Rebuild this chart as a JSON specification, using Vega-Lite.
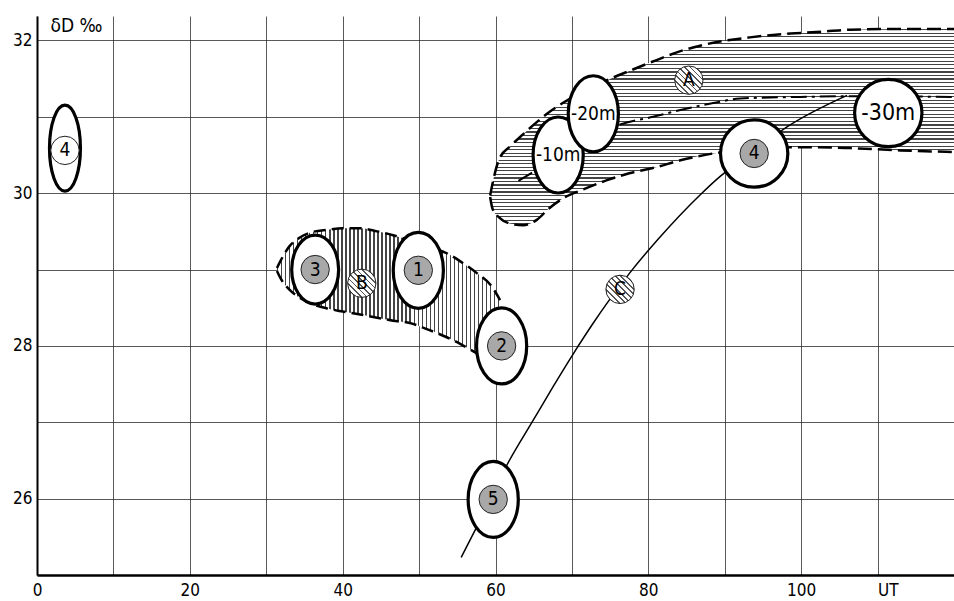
{
  "$schema": "https://vega.github.io/schema/vega-lite/v6.json",
  "width": 917,
  "height": 559,
  "autosize": {"type": "none"},
  "padding": {"left": 37, "top": 16, "right": 0, "bottom": 26},
  "background": "white",
  "config": {"view": {"stroke": null}, "font": "DejaVu Sans Condensed, Liberation Sans, sans-serif"},
  "datasets": {
    "regionA": [
      {"x": 59.3, "y": 29.97, "y2": 29.95},
      {"x": 59.6, "y": 30.12, "y2": 29.8},
      {"x": 60.5, "y": 30.45, "y2": 29.68},
      {"x": 62.0, "y": 30.62, "y2": 29.6},
      {"x": 63.6, "y": 30.77, "y2": 29.58},
      {"x": 65.4, "y": 30.93, "y2": 29.65},
      {"x": 67.0, "y": 31.06, "y2": 29.8},
      {"x": 68.8, "y": 31.18, "y2": 29.93},
      {"x": 71.5, "y": 31.33, "y2": 30.05},
      {"x": 74.6, "y": 31.48, "y2": 30.17},
      {"x": 77.5, "y": 31.6, "y2": 30.26},
      {"x": 81.0, "y": 31.74, "y2": 30.34},
      {"x": 84.2, "y": 31.86, "y2": 30.43},
      {"x": 88.5, "y": 31.97, "y2": 30.52},
      {"x": 93.3, "y": 32.04, "y2": 30.57},
      {"x": 98.6, "y": 32.09, "y2": 30.6},
      {"x": 102.0, "y": 32.11, "y2": 30.6},
      {"x": 106.4, "y": 32.14, "y2": 30.59},
      {"x": 113.0, "y": 32.15, "y2": 30.56},
      {"x": 120.0, "y": 32.15, "y2": 30.54}
    ],
    "regionB": [
      {"x": 31.4, "y": 29.02, "y2": 28.98},
      {"x": 31.9, "y": 29.12, "y2": 28.88},
      {"x": 33.0, "y": 29.3, "y2": 28.74},
      {"x": 34.4, "y": 29.42, "y2": 28.63},
      {"x": 36.0, "y": 29.49, "y2": 28.55},
      {"x": 38.0, "y": 29.52, "y2": 28.49},
      {"x": 40.0, "y": 29.54, "y2": 28.45},
      {"x": 42.3, "y": 29.54, "y2": 28.41},
      {"x": 44.5, "y": 29.5, "y2": 28.37},
      {"x": 46.6, "y": 29.45, "y2": 28.33},
      {"x": 48.8, "y": 29.38, "y2": 28.3},
      {"x": 51.0, "y": 29.3, "y2": 28.22},
      {"x": 53.7, "y": 29.21, "y2": 28.11},
      {"x": 55.5, "y": 29.1, "y2": 28.02},
      {"x": 57.6, "y": 28.95, "y2": 27.9},
      {"x": 59.5, "y": 28.78, "y2": 27.8},
      {"x": 60.6, "y": 28.6, "y2": 27.75}
    ],
    "lineA": [
      {"x": 63.0, "y": 30.16},
      {"x": 69.8, "y": 30.56},
      {"x": 76.3, "y": 30.9},
      {"x": 80.6, "y": 31.0},
      {"x": 84.2, "y": 31.09},
      {"x": 88.5, "y": 31.18},
      {"x": 92.0, "y": 31.24},
      {"x": 99.9, "y": 31.26},
      {"x": 106.4, "y": 31.27},
      {"x": 120.0, "y": 31.26}
    ],
    "trendC": [
      {"x": 55.5, "y": 25.23},
      {"x": 57.3, "y": 25.58},
      {"x": 61.6, "y": 26.46},
      {"x": 64.9, "y": 27.02},
      {"x": 67.5, "y": 27.46},
      {"x": 70.2, "y": 27.9},
      {"x": 72.8, "y": 28.3},
      {"x": 74.6, "y": 28.56},
      {"x": 77.6, "y": 28.96},
      {"x": 81.3, "y": 29.4},
      {"x": 86.8, "y": 29.98},
      {"x": 89.4, "y": 30.22},
      {"x": 93.85, "y": 30.55},
      {"x": 98.2, "y": 30.87},
      {"x": 106.0, "y": 31.28}
    ],
    "ellTall": [
      {"label": "1", "x": 49.9, "y": 28.99},
      {"label": "2", "x": 60.8, "y": 28.0},
      {"label": "5", "x": 59.7, "y": 25.99},
      {"label": "-10m", "x": 68.2, "y": 30.5},
      {"label": "-20m", "x": 72.8, "y": 31.04}
    ],
    "ellShort": [{"label": "3", "x": 36.4, "y": 29.0}],
    "ellNarrow": [{"label": "4", "x": 3.66, "y": 30.59}],
    "ellRound": [
      {"label": "4", "x": 93.85, "y": 30.52},
      {"label": "-30m", "x": 111.4, "y": 31.05}
    ],
    "samples": [
      {"label": "1", "x": 49.9, "y": 28.99, "kind": "stippled"},
      {"label": "2", "x": 60.8, "y": 28.0, "kind": "stippled"},
      {"label": "3", "x": 36.4, "y": 29.0, "kind": "stippled"},
      {"label": "5", "x": 59.7, "y": 25.99, "kind": "stippled"},
      {"label": "4", "x": 93.85, "y": 30.52, "kind": "stippled"},
      {"label": "4", "x": 3.66, "y": 30.56, "kind": "open"},
      {"label": "A", "x": 85.3, "y": 31.48, "kind": "hatched"},
      {"label": "B", "x": 42.5, "y": 28.82, "kind": "hatched"},
      {"label": "C", "x": 76.3, "y": 28.74, "kind": "hatched"}
    ],
    "depths": [
      {"label": "-10m", "x": 68.2, "y": 30.5},
      {"label": "-20m", "x": 72.8, "y": 31.04},
      {"label": "-30m", "x": 111.4, "y": 31.05}
    ]
  },
  "encoding": {
    "x": {
      "field": "x",
      "type": "quantitative",
      "scale": {"domain": [0, 120], "nice": false, "zero": false},
      "axis": {
        "values": [0, 10, 20, 30, 40, 50, 60, 70, 80, 90, 100, 110],
        "labelExpr": "datum.value == 110 ? 'UT' : ((datum.value % 20 == 0 && datum.value <= 100) ? datum.label : '')",
        "title": null,
        "grid": true,
        "gridColor": "#222",
        "gridWidth": 1,
        "gridOpacity": 0.75,
        "ticks": false,
        "domainColor": "black",
        "domainWidth": 2.5,
        "labelFont": "DejaVu Sans Condensed, Liberation Sans, sans-serif",
        "labelFontSize": 17,
        "labelColor": "black",
        "labelPadding": 7,
        "labelFlush": false,
        "labelOverlap": false,
        "labelAlign": {"condition": {"test": "datum.value == 110", "value": "left"}, "value": "center"}
      }
    },
    "y": {
      "field": "y",
      "type": "quantitative",
      "scale": {"domain": [25, 32.32], "nice": false, "zero": false},
      "axis": {
        "values": [25, 26, 27, 28, 29, 30, 31, 32],
        "labelExpr": "(datum.value % 2 == 0 && datum.value > 25) ? datum.label : ''",
        "grid": true,
        "gridColor": "#222",
        "gridWidth": 1,
        "gridOpacity": 0.75,
        "ticks": false,
        "domainColor": "black",
        "domainWidth": 2,
        "labelFont": "DejaVu Sans Condensed, Liberation Sans, sans-serif",
        "labelFontSize": 17,
        "labelColor": "black",
        "labelPadding": 5,
        "labelFlush": false,
        "labelOverlap": false,
        "title": "δD ‰",
        "titleAngle": 0,
        "titleX": 13,
        "titleY": 9,
        "titleAlign": "left",
        "titleBaseline": "middle",
        "titleFont": "DejaVu Sans Condensed, Liberation Sans, sans-serif",
        "titleFontSize": 19,
        "titleFontWeight": "normal",
        "titleColor": "black"
      }
    }
  },
  "layer": [
    {
      "data": {"name": "regionA"},
      "mark": {"type": "area", "interpolate": "monotone", "opacity": 1,
        "fill": {"gradient": "linear", "x1": 0, "y1": 0, "x2": 0, "y2": 1, "stops": [
{"offset":0,"color":"#444"},{"offset":0.006,"color":"#444"},{"offset":0.006,"color":"#fff"},{"offset":0.018,"color":"#fff"},
{"offset":0.018,"color":"#444"},{"offset":0.024,"color":"#444"},{"offset":0.024,"color":"#fff"},{"offset":0.036,"color":"#fff"},
{"offset":0.036,"color":"#444"},{"offset":0.042,"color":"#444"},{"offset":0.042,"color":"#fff"},{"offset":0.054,"color":"#fff"},
{"offset":0.054,"color":"#444"},{"offset":0.06,"color":"#444"},{"offset":0.06,"color":"#fff"},{"offset":0.072,"color":"#fff"},
{"offset":0.072,"color":"#444"},{"offset":0.078,"color":"#444"},{"offset":0.078,"color":"#fff"},{"offset":0.09,"color":"#fff"},
{"offset":0.09,"color":"#444"},{"offset":0.096,"color":"#444"},{"offset":0.096,"color":"#fff"},{"offset":0.108,"color":"#fff"},
{"offset":0.108,"color":"#444"},{"offset":0.114,"color":"#444"},{"offset":0.114,"color":"#fff"},{"offset":0.126,"color":"#fff"},
{"offset":0.126,"color":"#444"},{"offset":0.132,"color":"#444"},{"offset":0.132,"color":"#fff"},{"offset":0.144,"color":"#fff"},
{"offset":0.144,"color":"#444"},{"offset":0.15,"color":"#444"},{"offset":0.15,"color":"#fff"},{"offset":0.162,"color":"#fff"},
{"offset":0.162,"color":"#444"},{"offset":0.168,"color":"#444"},{"offset":0.168,"color":"#fff"},{"offset":0.18,"color":"#fff"},
{"offset":0.18,"color":"#444"},{"offset":0.186,"color":"#444"},{"offset":0.186,"color":"#fff"},{"offset":0.198,"color":"#fff"},
{"offset":0.198,"color":"#444"},{"offset":0.204,"color":"#444"},{"offset":0.204,"color":"#fff"},{"offset":0.216,"color":"#fff"},
{"offset":0.216,"color":"#444"},{"offset":0.222,"color":"#444"},{"offset":0.222,"color":"#fff"},{"offset":0.234,"color":"#fff"},
{"offset":0.234,"color":"#444"},{"offset":0.24,"color":"#444"},{"offset":0.24,"color":"#fff"},{"offset":0.252,"color":"#fff"},
{"offset":0.252,"color":"#444"},{"offset":0.258,"color":"#444"},{"offset":0.258,"color":"#fff"},{"offset":0.27,"color":"#fff"},
{"offset":0.27,"color":"#444"},{"offset":0.276,"color":"#444"},{"offset":0.276,"color":"#fff"},{"offset":0.288,"color":"#fff"},
{"offset":0.288,"color":"#444"},{"offset":0.294,"color":"#444"},{"offset":0.294,"color":"#fff"},{"offset":0.306,"color":"#fff"},
{"offset":0.306,"color":"#444"},{"offset":0.312,"color":"#444"},{"offset":0.312,"color":"#fff"},{"offset":0.324,"color":"#fff"},
{"offset":0.324,"color":"#444"},{"offset":0.33,"color":"#444"},{"offset":0.33,"color":"#fff"},{"offset":0.342,"color":"#fff"},
{"offset":0.342,"color":"#444"},{"offset":0.348,"color":"#444"},{"offset":0.348,"color":"#fff"},{"offset":0.36,"color":"#fff"},
{"offset":0.36,"color":"#444"},{"offset":0.366,"color":"#444"},{"offset":0.366,"color":"#fff"},{"offset":0.378,"color":"#fff"},
{"offset":0.378,"color":"#444"},{"offset":0.384,"color":"#444"},{"offset":0.384,"color":"#fff"},{"offset":0.396,"color":"#fff"},
{"offset":0.396,"color":"#444"},{"offset":0.402,"color":"#444"},{"offset":0.402,"color":"#fff"},{"offset":0.414,"color":"#fff"},
{"offset":0.414,"color":"#444"},{"offset":0.42,"color":"#444"},{"offset":0.42,"color":"#fff"},{"offset":0.432,"color":"#fff"},
{"offset":0.432,"color":"#444"},{"offset":0.438,"color":"#444"},{"offset":0.438,"color":"#fff"},{"offset":0.45,"color":"#fff"},
{"offset":0.45,"color":"#444"},{"offset":0.456,"color":"#444"},{"offset":0.456,"color":"#fff"},{"offset":0.468,"color":"#fff"},
{"offset":0.468,"color":"#444"},{"offset":0.474,"color":"#444"},{"offset":0.474,"color":"#fff"},{"offset":0.486,"color":"#fff"},
{"offset":0.486,"color":"#444"},{"offset":0.492,"color":"#444"},{"offset":0.492,"color":"#fff"},{"offset":0.504,"color":"#fff"},
{"offset":0.504,"color":"#444"},{"offset":0.51,"color":"#444"},{"offset":0.51,"color":"#fff"},{"offset":0.522,"color":"#fff"},
{"offset":0.522,"color":"#444"},{"offset":0.528,"color":"#444"},{"offset":0.528,"color":"#fff"},{"offset":0.54,"color":"#fff"},
{"offset":0.54,"color":"#444"},{"offset":0.546,"color":"#444"},{"offset":0.546,"color":"#fff"},{"offset":0.558,"color":"#fff"},
{"offset":0.558,"color":"#444"},{"offset":0.564,"color":"#444"},{"offset":0.564,"color":"#fff"},{"offset":0.576,"color":"#fff"},
{"offset":0.576,"color":"#444"},{"offset":0.582,"color":"#444"},{"offset":0.582,"color":"#fff"},{"offset":0.594,"color":"#fff"},
{"offset":0.594,"color":"#444"},{"offset":0.6,"color":"#444"},{"offset":0.6,"color":"#fff"},{"offset":0.612,"color":"#fff"},
{"offset":0.612,"color":"#444"},{"offset":0.618,"color":"#444"},{"offset":0.618,"color":"#fff"},{"offset":0.63,"color":"#fff"},
{"offset":0.63,"color":"#444"},{"offset":0.636,"color":"#444"},{"offset":0.636,"color":"#fff"},{"offset":0.648,"color":"#fff"},
{"offset":0.648,"color":"#444"},{"offset":0.654,"color":"#444"},{"offset":0.654,"color":"#fff"},{"offset":0.666,"color":"#fff"},
{"offset":0.666,"color":"#444"},{"offset":0.672,"color":"#444"},{"offset":0.672,"color":"#fff"},{"offset":0.684,"color":"#fff"},
{"offset":0.684,"color":"#444"},{"offset":0.69,"color":"#444"},{"offset":0.69,"color":"#fff"},{"offset":0.702,"color":"#fff"},
{"offset":0.702,"color":"#444"},{"offset":0.708,"color":"#444"},{"offset":0.708,"color":"#fff"},{"offset":0.72,"color":"#fff"},
{"offset":0.72,"color":"#444"},{"offset":0.726,"color":"#444"},{"offset":0.726,"color":"#fff"},{"offset":0.738,"color":"#fff"},
{"offset":0.738,"color":"#444"},{"offset":0.744,"color":"#444"},{"offset":0.744,"color":"#fff"},{"offset":0.756,"color":"#fff"},
{"offset":0.756,"color":"#444"},{"offset":0.762,"color":"#444"},{"offset":0.762,"color":"#fff"},{"offset":0.774,"color":"#fff"},
{"offset":0.774,"color":"#444"},{"offset":0.78,"color":"#444"},{"offset":0.78,"color":"#fff"},{"offset":0.792,"color":"#fff"},
{"offset":0.792,"color":"#444"},{"offset":0.798,"color":"#444"},{"offset":0.798,"color":"#fff"},{"offset":0.81,"color":"#fff"},
{"offset":0.81,"color":"#444"},{"offset":0.816,"color":"#444"},{"offset":0.816,"color":"#fff"},{"offset":0.828,"color":"#fff"},
{"offset":0.828,"color":"#444"},{"offset":0.834,"color":"#444"},{"offset":0.834,"color":"#fff"},{"offset":0.846,"color":"#fff"},
{"offset":0.846,"color":"#444"},{"offset":0.852,"color":"#444"},{"offset":0.852,"color":"#fff"},{"offset":0.864,"color":"#fff"},
{"offset":0.864,"color":"#444"},{"offset":0.87,"color":"#444"},{"offset":0.87,"color":"#fff"},{"offset":0.882,"color":"#fff"},
{"offset":0.882,"color":"#444"},{"offset":0.888,"color":"#444"},{"offset":0.888,"color":"#fff"},{"offset":0.9,"color":"#fff"},
{"offset":0.9,"color":"#444"},{"offset":0.906,"color":"#444"},{"offset":0.906,"color":"#fff"},{"offset":0.918,"color":"#fff"},
{"offset":0.918,"color":"#444"},{"offset":0.924,"color":"#444"},{"offset":0.924,"color":"#fff"},{"offset":0.936,"color":"#fff"},
{"offset":0.936,"color":"#444"},{"offset":0.942,"color":"#444"},{"offset":0.942,"color":"#fff"},{"offset":0.954,"color":"#fff"},
{"offset":0.954,"color":"#444"},{"offset":0.96,"color":"#444"},{"offset":0.96,"color":"#fff"},{"offset":0.972,"color":"#fff"},
{"offset":0.972,"color":"#444"},{"offset":0.978,"color":"#444"},{"offset":0.978,"color":"#fff"},{"offset":0.99,"color":"#fff"},
{"offset":0.99,"color":"#444"},{"offset":0.996,"color":"#444"},{"offset":0.996,"color":"#fff"},{"offset":1,"color":"#fff"}
        ]}},
      "encoding": {"y2": {"field": "y2"}}
    },
    {
      "data": {"name": "regionB"},
      "mark": {"type": "area", "interpolate": "monotone", "opacity": 1,
        "fill": {"gradient": "linear", "x1": 0, "y1": 0, "x2": 1, "y2": 0, "stops": [
{"offset":0,"color":"#444"},{"offset":0.006,"color":"#444"},{"offset":0.006,"color":"#fff"},{"offset":0.018,"color":"#fff"},
{"offset":0.018,"color":"#444"},{"offset":0.024,"color":"#444"},{"offset":0.024,"color":"#fff"},{"offset":0.036,"color":"#fff"},
{"offset":0.036,"color":"#444"},{"offset":0.042,"color":"#444"},{"offset":0.042,"color":"#fff"},{"offset":0.054,"color":"#fff"},
{"offset":0.054,"color":"#444"},{"offset":0.06,"color":"#444"},{"offset":0.06,"color":"#fff"},{"offset":0.072,"color":"#fff"},
{"offset":0.072,"color":"#444"},{"offset":0.078,"color":"#444"},{"offset":0.078,"color":"#fff"},{"offset":0.09,"color":"#fff"},
{"offset":0.09,"color":"#444"},{"offset":0.096,"color":"#444"},{"offset":0.096,"color":"#fff"},{"offset":0.108,"color":"#fff"},
{"offset":0.108,"color":"#444"},{"offset":0.114,"color":"#444"},{"offset":0.114,"color":"#fff"},{"offset":0.126,"color":"#fff"},
{"offset":0.126,"color":"#444"},{"offset":0.132,"color":"#444"},{"offset":0.132,"color":"#fff"},{"offset":0.144,"color":"#fff"},
{"offset":0.144,"color":"#444"},{"offset":0.15,"color":"#444"},{"offset":0.15,"color":"#fff"},{"offset":0.162,"color":"#fff"},
{"offset":0.162,"color":"#444"},{"offset":0.168,"color":"#444"},{"offset":0.168,"color":"#fff"},{"offset":0.18,"color":"#fff"},
{"offset":0.18,"color":"#444"},{"offset":0.186,"color":"#444"},{"offset":0.186,"color":"#fff"},{"offset":0.198,"color":"#fff"},
{"offset":0.198,"color":"#444"},{"offset":0.204,"color":"#444"},{"offset":0.204,"color":"#fff"},{"offset":0.216,"color":"#fff"},
{"offset":0.216,"color":"#444"},{"offset":0.222,"color":"#444"},{"offset":0.222,"color":"#fff"},{"offset":0.234,"color":"#fff"},
{"offset":0.234,"color":"#444"},{"offset":0.24,"color":"#444"},{"offset":0.24,"color":"#fff"},{"offset":0.252,"color":"#fff"},
{"offset":0.252,"color":"#444"},{"offset":0.258,"color":"#444"},{"offset":0.258,"color":"#fff"},{"offset":0.27,"color":"#fff"},
{"offset":0.27,"color":"#444"},{"offset":0.276,"color":"#444"},{"offset":0.276,"color":"#fff"},{"offset":0.288,"color":"#fff"},
{"offset":0.288,"color":"#444"},{"offset":0.294,"color":"#444"},{"offset":0.294,"color":"#fff"},{"offset":0.306,"color":"#fff"},
{"offset":0.306,"color":"#444"},{"offset":0.312,"color":"#444"},{"offset":0.312,"color":"#fff"},{"offset":0.324,"color":"#fff"},
{"offset":0.324,"color":"#444"},{"offset":0.33,"color":"#444"},{"offset":0.33,"color":"#fff"},{"offset":0.342,"color":"#fff"},
{"offset":0.342,"color":"#444"},{"offset":0.348,"color":"#444"},{"offset":0.348,"color":"#fff"},{"offset":0.36,"color":"#fff"},
{"offset":0.36,"color":"#444"},{"offset":0.366,"color":"#444"},{"offset":0.366,"color":"#fff"},{"offset":0.378,"color":"#fff"},
{"offset":0.378,"color":"#444"},{"offset":0.384,"color":"#444"},{"offset":0.384,"color":"#fff"},{"offset":0.396,"color":"#fff"},
{"offset":0.396,"color":"#444"},{"offset":0.402,"color":"#444"},{"offset":0.402,"color":"#fff"},{"offset":0.414,"color":"#fff"},
{"offset":0.414,"color":"#444"},{"offset":0.42,"color":"#444"},{"offset":0.42,"color":"#fff"},{"offset":0.432,"color":"#fff"},
{"offset":0.432,"color":"#444"},{"offset":0.438,"color":"#444"},{"offset":0.438,"color":"#fff"},{"offset":0.45,"color":"#fff"},
{"offset":0.45,"color":"#444"},{"offset":0.456,"color":"#444"},{"offset":0.456,"color":"#fff"},{"offset":0.468,"color":"#fff"},
{"offset":0.468,"color":"#444"},{"offset":0.474,"color":"#444"},{"offset":0.474,"color":"#fff"},{"offset":0.486,"color":"#fff"},
{"offset":0.486,"color":"#444"},{"offset":0.492,"color":"#444"},{"offset":0.492,"color":"#fff"},{"offset":0.504,"color":"#fff"},
{"offset":0.504,"color":"#444"},{"offset":0.51,"color":"#444"},{"offset":0.51,"color":"#fff"},{"offset":0.522,"color":"#fff"},
{"offset":0.522,"color":"#444"},{"offset":0.528,"color":"#444"},{"offset":0.528,"color":"#fff"},{"offset":0.54,"color":"#fff"},
{"offset":0.54,"color":"#444"},{"offset":0.546,"color":"#444"},{"offset":0.546,"color":"#fff"},{"offset":0.558,"color":"#fff"},
{"offset":0.558,"color":"#444"},{"offset":0.564,"color":"#444"},{"offset":0.564,"color":"#fff"},{"offset":0.576,"color":"#fff"},
{"offset":0.576,"color":"#444"},{"offset":0.582,"color":"#444"},{"offset":0.582,"color":"#fff"},{"offset":0.594,"color":"#fff"},
{"offset":0.594,"color":"#444"},{"offset":0.6,"color":"#444"},{"offset":0.6,"color":"#fff"},{"offset":0.612,"color":"#fff"},
{"offset":0.612,"color":"#444"},{"offset":0.618,"color":"#444"},{"offset":0.618,"color":"#fff"},{"offset":0.63,"color":"#fff"},
{"offset":0.63,"color":"#444"},{"offset":0.636,"color":"#444"},{"offset":0.636,"color":"#fff"},{"offset":0.648,"color":"#fff"},
{"offset":0.648,"color":"#444"},{"offset":0.654,"color":"#444"},{"offset":0.654,"color":"#fff"},{"offset":0.666,"color":"#fff"},
{"offset":0.666,"color":"#444"},{"offset":0.672,"color":"#444"},{"offset":0.672,"color":"#fff"},{"offset":0.684,"color":"#fff"},
{"offset":0.684,"color":"#444"},{"offset":0.69,"color":"#444"},{"offset":0.69,"color":"#fff"},{"offset":0.702,"color":"#fff"},
{"offset":0.702,"color":"#444"},{"offset":0.708,"color":"#444"},{"offset":0.708,"color":"#fff"},{"offset":0.72,"color":"#fff"},
{"offset":0.72,"color":"#444"},{"offset":0.726,"color":"#444"},{"offset":0.726,"color":"#fff"},{"offset":0.738,"color":"#fff"},
{"offset":0.738,"color":"#444"},{"offset":0.744,"color":"#444"},{"offset":0.744,"color":"#fff"},{"offset":0.756,"color":"#fff"},
{"offset":0.756,"color":"#444"},{"offset":0.762,"color":"#444"},{"offset":0.762,"color":"#fff"},{"offset":0.774,"color":"#fff"},
{"offset":0.774,"color":"#444"},{"offset":0.78,"color":"#444"},{"offset":0.78,"color":"#fff"},{"offset":0.792,"color":"#fff"},
{"offset":0.792,"color":"#444"},{"offset":0.798,"color":"#444"},{"offset":0.798,"color":"#fff"},{"offset":0.81,"color":"#fff"},
{"offset":0.81,"color":"#444"},{"offset":0.816,"color":"#444"},{"offset":0.816,"color":"#fff"},{"offset":0.828,"color":"#fff"},
{"offset":0.828,"color":"#444"},{"offset":0.834,"color":"#444"},{"offset":0.834,"color":"#fff"},{"offset":0.846,"color":"#fff"},
{"offset":0.846,"color":"#444"},{"offset":0.852,"color":"#444"},{"offset":0.852,"color":"#fff"},{"offset":0.864,"color":"#fff"},
{"offset":0.864,"color":"#444"},{"offset":0.87,"color":"#444"},{"offset":0.87,"color":"#fff"},{"offset":0.882,"color":"#fff"},
{"offset":0.882,"color":"#444"},{"offset":0.888,"color":"#444"},{"offset":0.888,"color":"#fff"},{"offset":0.9,"color":"#fff"},
{"offset":0.9,"color":"#444"},{"offset":0.906,"color":"#444"},{"offset":0.906,"color":"#fff"},{"offset":0.918,"color":"#fff"},
{"offset":0.918,"color":"#444"},{"offset":0.924,"color":"#444"},{"offset":0.924,"color":"#fff"},{"offset":0.936,"color":"#fff"},
{"offset":0.936,"color":"#444"},{"offset":0.942,"color":"#444"},{"offset":0.942,"color":"#fff"},{"offset":0.954,"color":"#fff"},
{"offset":0.954,"color":"#444"},{"offset":0.96,"color":"#444"},{"offset":0.96,"color":"#fff"},{"offset":0.972,"color":"#fff"},
{"offset":0.972,"color":"#444"},{"offset":0.978,"color":"#444"},{"offset":0.978,"color":"#fff"},{"offset":0.99,"color":"#fff"},
{"offset":0.99,"color":"#444"},{"offset":0.996,"color":"#444"},{"offset":0.996,"color":"#fff"},{"offset":1,"color":"#fff"}
        ]}},
      "encoding": {"y2": {"field": "y2"}}
    },
    {
      "data": {"name": "regionA"},
      "mark": {"type": "line", "interpolate": "monotone", "stroke": "black", "strokeWidth": 2.5, "strokeDash": [14, 6]},
      "encoding": {}
    },
    {
      "data": {"name": "regionA"},
      "mark": {"type": "line", "interpolate": "monotone", "stroke": "black", "strokeWidth": 2.5, "strokeDash": [14, 6]},
      "encoding": {"y": {"field": "y2", "type": "quantitative", "scale": {"domain": [25, 32.32], "nice": false, "zero": false}}}
    },
    {
      "data": {"name": "regionB"},
      "mark": {"type": "line", "interpolate": "monotone", "stroke": "black", "strokeWidth": 2.5, "strokeDash": [12, 6]},
      "encoding": {}
    },
    {
      "data": {"name": "regionB"},
      "mark": {"type": "line", "interpolate": "monotone", "stroke": "black", "strokeWidth": 2.5, "strokeDash": [12, 6]},
      "encoding": {"y": {"field": "y2", "type": "quantitative", "scale": {"domain": [25, 32.32], "nice": false, "zero": false}}}
    },
    {
      "data": {"name": "lineA"},
      "mark": {"type": "line", "interpolate": "monotone", "stroke": "black", "strokeWidth": 2, "strokeDash": [16, 5, 3, 5]},
      "encoding": {}
    },
    {
      "data": {"name": "trendC"},
      "mark": {"type": "line", "interpolate": "monotone", "stroke": "black", "strokeWidth": 1.5},
      "encoding": {}
    },
    {
      "data": {"name": "ellTall"},
      "mark": {"type": "point", "shape": "M0,-1C0.364,-1 0.66,-0.552 0.66,0C0.66,0.552 0.364,1 0,1C-0.364,1 -0.66,0.552 -0.66,0C-0.66,-0.552 -0.364,-1 0,-1Z", "size": 5776, "filled": true, "fill": "white", "stroke": "black", "strokeWidth": 3.2, "opacity": 1}
    },
    {
      "data": {"name": "ellShort"},
      "mark": {"type": "point", "shape": "M0,-1C0.375,-1 0.68,-0.552 0.68,0C0.68,0.552 0.375,1 0,1C-0.375,1 -0.68,0.552 -0.68,0C-0.68,-0.552 -0.375,-1 0,-1Z", "size": 4761, "filled": true, "fill": "white", "stroke": "black", "strokeWidth": 3.2, "opacity": 1}
    },
    {
      "data": {"name": "ellNarrow"},
      "mark": {"type": "point", "shape": "M0,-1C0.199,-1 0.36,-0.552 0.36,0C0.36,0.552 0.199,1 0,1C-0.199,1 -0.36,0.552 -0.36,0C-0.36,-0.552 -0.199,-1 0,-1Z", "size": 7396, "filled": true, "fill": "white", "stroke": "black", "strokeWidth": 3.2, "opacity": 1}
    },
    {
      "data": {"name": "ellRound"},
      "mark": {"type": "point", "shape": "circle", "size": 4536, "filled": true, "fill": "white", "stroke": "black", "strokeWidth": 3.2, "opacity": 1}
    },
    {
      "data": {"name": "samples"},
      "transform": [{"filter": "datum.kind != 'hatched'"}],
      "mark": {"type": "point", "shape": "circle", "size": 804, "filled": true, "stroke": "#222", "strokeWidth": 1, "opacity": 1},
      "encoding": {
        "fill": {"field": "kind", "type": "nominal", "scale": {"domain": ["stippled", "open"], "range": ["#a8a8a8", "white"]}, "legend": null}
      }
    },
    {
      "data": {"name": "samples"},
      "transform": [{"filter": "datum.kind == 'hatched'"}],
      "mark": {"type": "point", "shape": "circle", "size": 804, "filled": true, "stroke": "#222", "strokeWidth": 1, "opacity": 1,
        "fill": {"gradient": "linear", "x1": 0, "y1": 1, "x2": 1, "y2": 0, "stops": [
{"offset":0,"color":"#fff"},{"offset":0.035,"color":"#fff"},{"offset":0.035,"color":"#555"},{"offset":0.065,"color":"#555"},{"offset":0.065,"color":"#fff"},
{"offset":0.135,"color":"#fff"},{"offset":0.135,"color":"#555"},{"offset":0.165,"color":"#555"},{"offset":0.165,"color":"#fff"},
{"offset":0.235,"color":"#fff"},{"offset":0.235,"color":"#555"},{"offset":0.265,"color":"#555"},{"offset":0.265,"color":"#fff"},
{"offset":0.335,"color":"#fff"},{"offset":0.335,"color":"#555"},{"offset":0.365,"color":"#555"},{"offset":0.365,"color":"#fff"},
{"offset":0.435,"color":"#fff"},{"offset":0.435,"color":"#555"},{"offset":0.465,"color":"#555"},{"offset":0.465,"color":"#fff"},
{"offset":0.535,"color":"#fff"},{"offset":0.535,"color":"#555"},{"offset":0.565,"color":"#555"},{"offset":0.565,"color":"#fff"},
{"offset":0.635,"color":"#fff"},{"offset":0.635,"color":"#555"},{"offset":0.665,"color":"#555"},{"offset":0.665,"color":"#fff"},
{"offset":0.735,"color":"#fff"},{"offset":0.735,"color":"#555"},{"offset":0.765,"color":"#555"},{"offset":0.765,"color":"#fff"},
{"offset":0.835,"color":"#fff"},{"offset":0.835,"color":"#555"},{"offset":0.865,"color":"#555"},{"offset":0.865,"color":"#fff"},
{"offset":0.935,"color":"#fff"},{"offset":0.935,"color":"#555"},{"offset":0.965,"color":"#555"},{"offset":0.965,"color":"#fff"},{"offset":1,"color":"#fff"}
        ]}}
    },
    {
      "data": {"name": "samples"},
      "mark": {"type": "text", "font": "DejaVu Sans Condensed, Liberation Sans, sans-serif", "fontSize": 19, "color": "black", "baseline": "middle", "align": "center"},
      "encoding": {"text": {"field": "label"}}
    },
    {
      "data": {"name": "depths"},
      "transform": [{"filter": "datum.label != '-30m'"}],
      "mark": {"type": "text", "font": "DejaVu Sans Condensed, Liberation Sans, sans-serif", "fontSize": 19, "color": "black", "baseline": "middle", "align": "center"},
      "encoding": {"text": {"field": "label"}}
    },
    {
      "data": {"name": "depths"},
      "transform": [{"filter": "datum.label == '-30m'"}],
      "mark": {"type": "text", "font": "DejaVu Sans Condensed, Liberation Sans, sans-serif", "fontSize": 23, "color": "black", "baseline": "middle", "align": "center"},
      "encoding": {"text": {"field": "label"}}
    }
  ]
}
